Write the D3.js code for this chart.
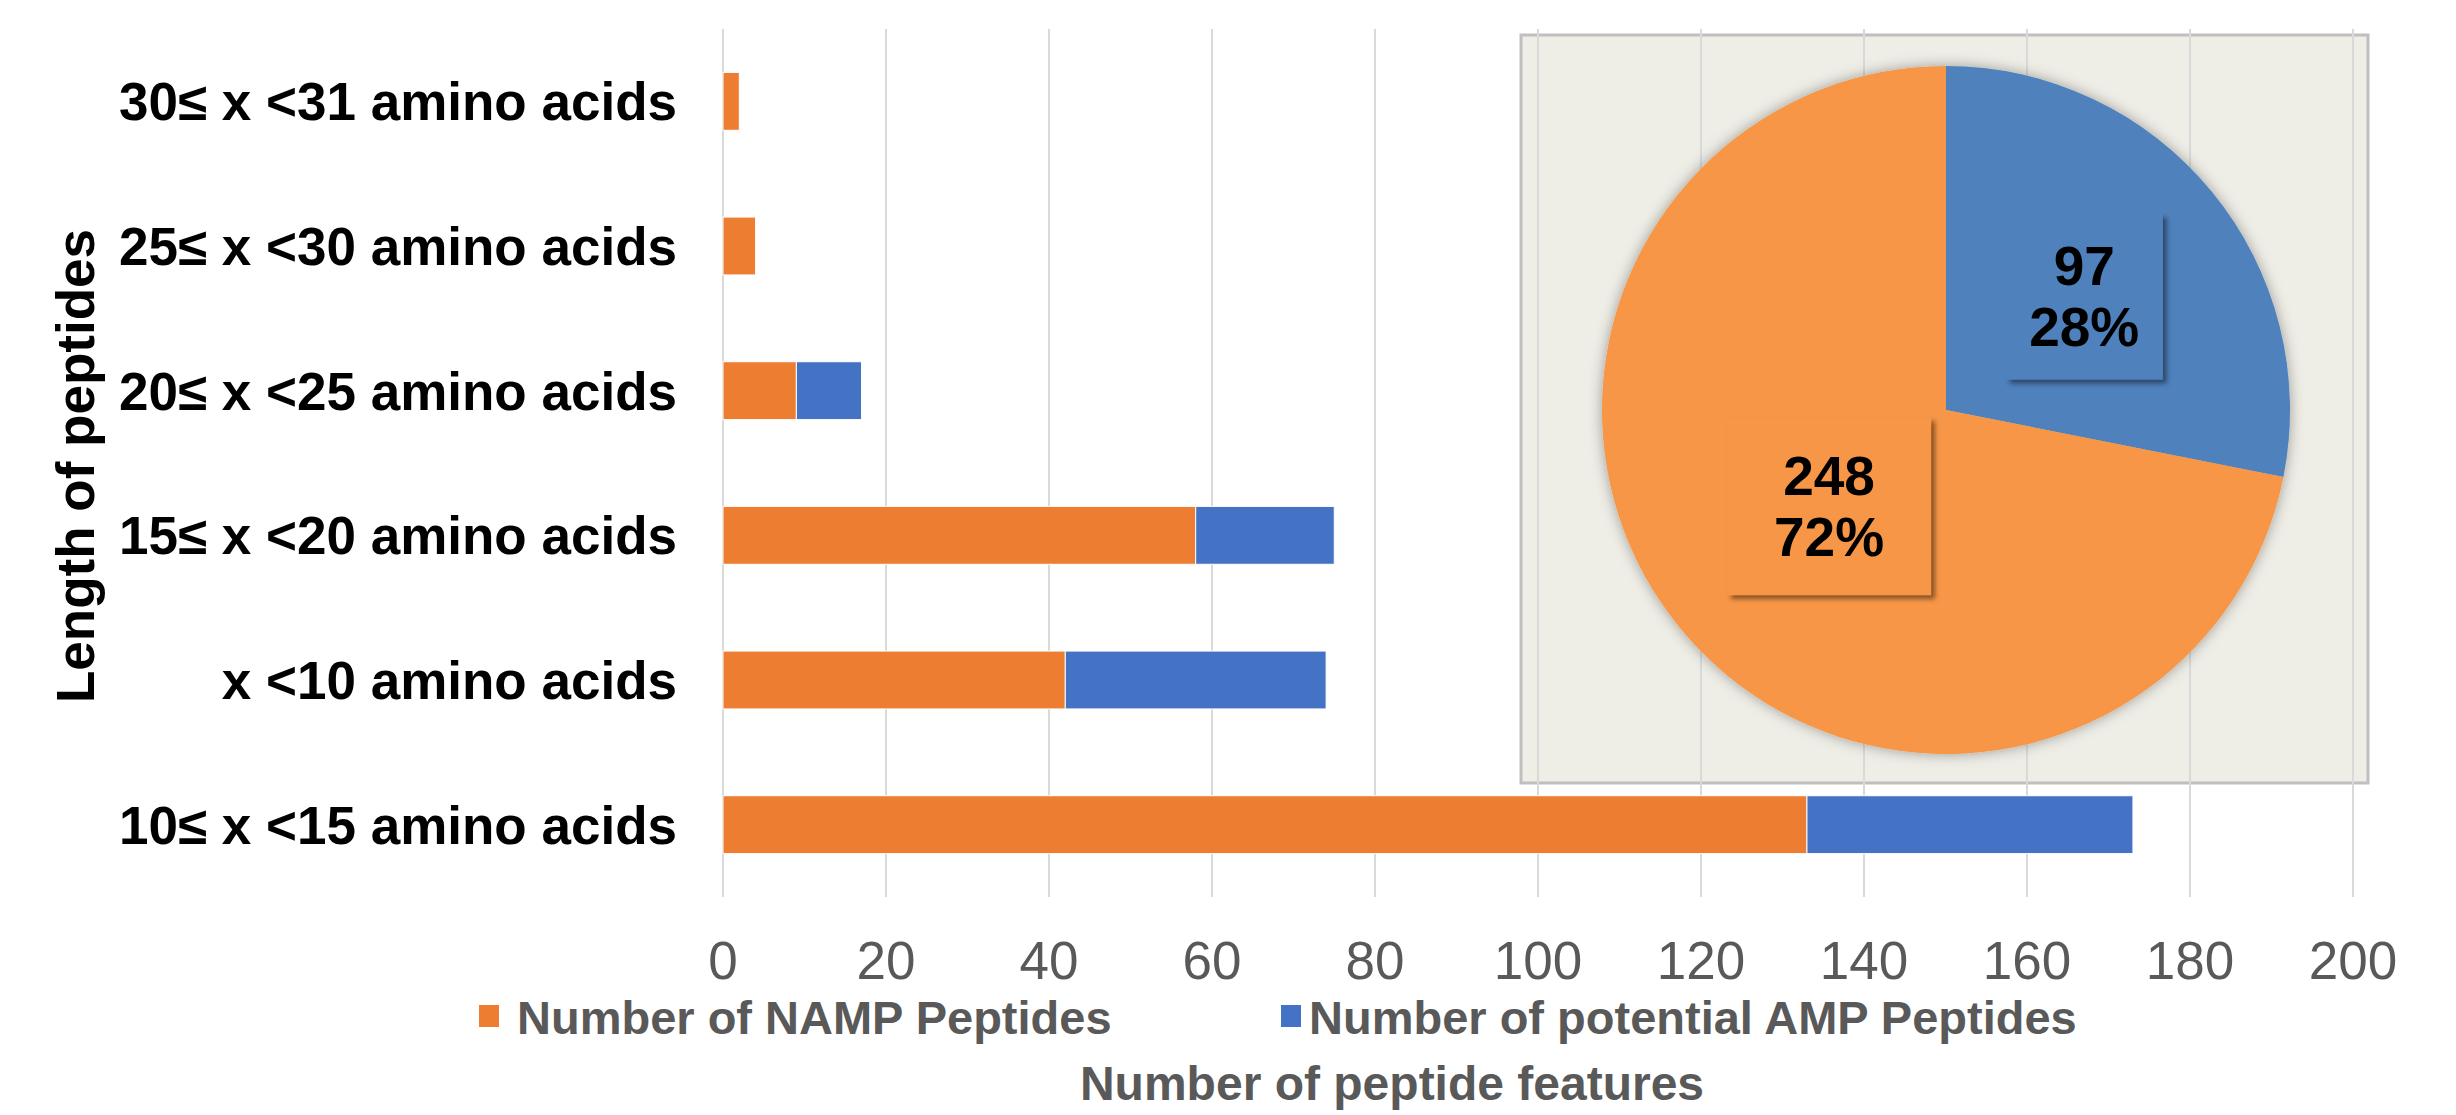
<!DOCTYPE html>
<html><head><meta charset="utf-8">
<script src="https://cdn.jsdelivr.net/npm/d3@7"></script>
<style>
html,body{margin:0;padding:0;background:#fff;}
svg{display:block;font-family:"Liberation Sans",Arial,sans-serif;}
</style></head>
<body>
<svg id="c" width="2456" height="1115"></svg>
<script>
const categories = ["30≤ x <31 amino acids","25≤ x <30 amino acids","20≤ x <25 amino acids","15≤ x <20 amino acids","x <10 amino acids","10≤ x <15 amino acids"];
const nampValues = [2,4,9,58,42,133];
const ampValues = [0,0,8,17,32,40];
const seriesNames = ["Number of NAMP Peptides","Number of potential AMP Peptides"];
const xTicks = [0,20,40,60,80,100,120,140,160,180,200];
const pieLabels = ["Number of potential AMP Peptides","Number of NAMP Peptides"];
const pieValues = [97,248];

const barColors = ["#ED7D31","#4472C4"];
const pieColors = ["#4F81BD","#F79646"];

const svg = d3.select("#c");
const defs = svg.append("defs");
const f1 = defs.append("filter").attr("id","pieShadow").attr("x","-20%").attr("y","-20%").attr("width","140%").attr("height","140%");
f1.append("feDropShadow").attr("dx",0).attr("dy",0).attr("stdDeviation",7).attr("flood-color","#000").attr("flood-opacity",0.35);
const f2 = defs.append("filter").attr("id","boxShadow").attr("x","-20%").attr("y","-20%").attr("width","140%").attr("height","140%");
f2.append("feDropShadow").attr("dx",4).attr("dy",4).attr("stdDeviation",2.5).attr("flood-color","#000").attr("flood-opacity",0.45);

const x = d3.scaleLinear().domain([0,200]).range([723,2353]);
const y = d3.scaleBand().domain(categories).range([29,897]).paddingInner(0.6).paddingOuter(0.3);

// inset panel background
const panel = {x0:1521,y0:35,x1:2368,y1:783};
svg.append("rect").attr("x",panel.x0).attr("y",panel.y0).attr("width",panel.x1-panel.x0).attr("height",panel.y1-panel.y0)
  .attr("fill","#EEEDE6").attr("stroke","#BFBFBF").attr("stroke-width",3);

// gridlines
svg.append("g").selectAll("line").data(xTicks).join("line")
  .attr("x1",d=>x(d)).attr("x2",d=>x(d)).attr("y1",29).attr("y2",897)
  .attr("stroke","#D9D9D9").attr("stroke-width",2);

// x tick labels
svg.append("g").selectAll("text").data(xTicks).join("text")
  .attr("x",d=>x(d)).attr("y",979).attr("text-anchor","middle")
  .attr("font-size",53).attr("fill","#595959").text(d=>d);

// bars
const stackData = categories.map((c,i)=>({cat:c, namp:nampValues[i], amp:ampValues[i]}));
const stack = d3.stack().keys(["namp","amp"])(stackData);
svg.append("g").selectAll("g").data(stack).join("g")
  .attr("fill",(d,i)=>barColors[i])
  .selectAll("rect").data(d=>d.filter(s=>s[1]-s[0]>0)).join("rect")
  .attr("x",d=>x(d[0])).attr("width",d=>x(d[1])-x(d[0]))
  .attr("y",d=>y(d.data.cat)).attr("height",y.bandwidth())
  .attr("stroke","#fff").attr("stroke-width",1);

// category labels
svg.append("g").selectAll("text").data(categories).join("text")
  .attr("x",677).attr("y",d=>y(d)+y.bandwidth()/2).attr("dy","0.36em")
  .attr("text-anchor","end").attr("font-size",53).attr("font-weight","bold").attr("fill","#000").text(d=>d);

// y axis title
svg.append("text").attr("transform","translate(94,466) rotate(-90)")
  .attr("text-anchor","middle").attr("font-size",53).attr("font-weight","bold").attr("fill","#000")
  .text("Length of peptides");

// legend
const legendPos = [{sx:479, tx:517},{sx:1281, tx:1309}];
const lg = svg.append("g");
seriesNames.forEach((n,i)=>{
  lg.append("rect").attr("x",legendPos[i].sx).attr("y",1005).attr("width",20).attr("height",22).attr("fill",barColors[i]);
  lg.append("text").attr("x",legendPos[i].tx).attr("y",1034).attr("font-size",47).attr("font-weight","bold").attr("fill","#595959").text(n);
});

// x axis title
svg.append("text").attr("x",1392).attr("y",1100).attr("text-anchor","middle")
  .attr("font-size",48).attr("font-weight","bold").attr("fill","#595959").text("Number of peptide features");

// pie
const cx = 1946, cy = 410, R = 344;
const pie = d3.pie().sort(null).value(d=>d)(pieValues);
const arc = d3.arc().innerRadius(0).outerRadius(R);
const pg = svg.append("g").attr("transform",`translate(${cx},${cy})`);
pg.append("g").attr("filter","url(#pieShadow)").selectAll("path").data(pie).join("path")
  .attr("d",arc).attr("fill",(d,i)=>pieColors[i]);

const total = d3.sum(pieValues);
const labelRad = [0.52,0.44];
const boxSize = [[157,166],[204,178]];
pie.forEach((d,i)=>{
  const la = d3.arc().innerRadius(R*labelRad[i]).outerRadius(R*labelRad[i]);
  const [lx,ly] = la.centroid(d);
  const g = pg.append("g").attr("transform",`translate(${lx},${ly})`);
  g.append("rect").attr("x",-boxSize[i][0]/2).attr("y",-boxSize[i][1]/2)
    .attr("width",boxSize[i][0]).attr("height",boxSize[i][1])
    .attr("fill",pieColors[i]).attr("filter","url(#boxShadow)");
  g.append("text").attr("text-anchor","middle").attr("y",-11).attr("font-size",55).attr("font-weight","bold").attr("fill","#000").text(pieValues[i]);
  g.append("text").attr("text-anchor","middle").attr("y",50).attr("font-size",55).attr("font-weight","bold").attr("fill","#000")
    .text(Math.round(pieValues[i]/total*100)+"%");
});
</script>
</body></html>
